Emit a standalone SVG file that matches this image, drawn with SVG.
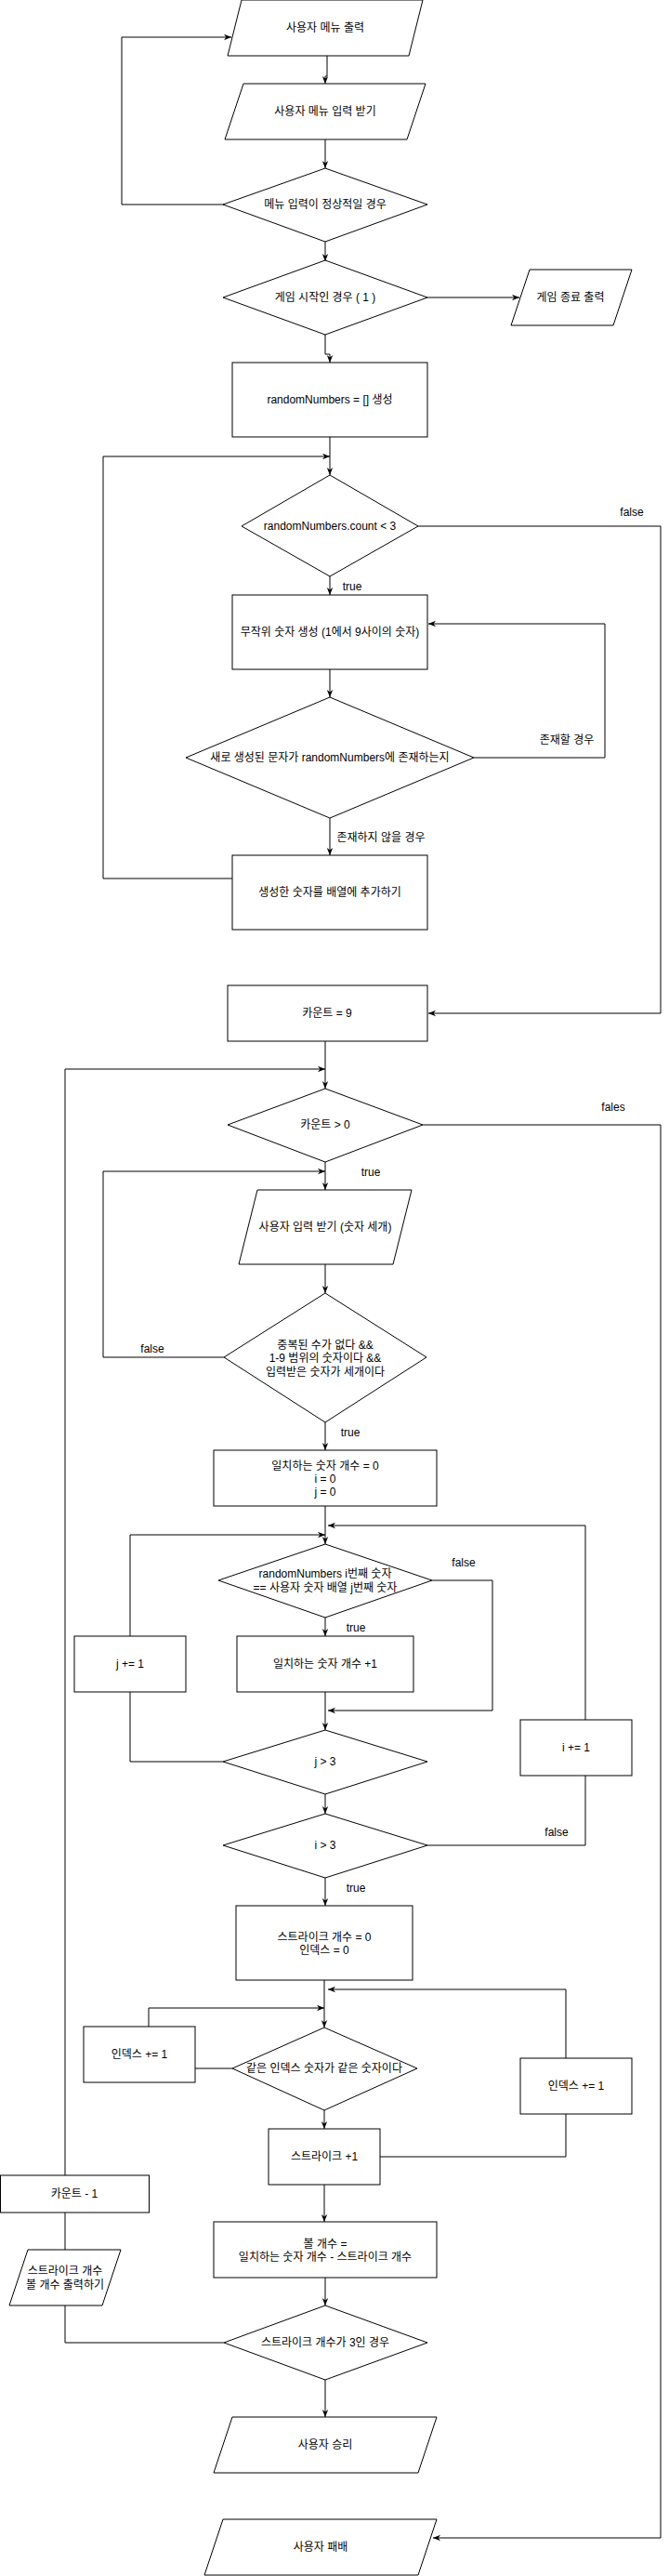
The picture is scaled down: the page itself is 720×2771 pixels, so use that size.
<svg xmlns="http://www.w3.org/2000/svg" width="720" height="2771" viewBox="0 0 720 2771">
<style>
.s{fill:#fff;stroke:#000;stroke-width:1}
.c{fill:none;stroke:#000;stroke-width:1}
.a{marker-end:url(#ah)}
text{font-family:"Liberation Sans","Noto Sans CJK KR",sans-serif;font-size:12px;fill:#000;text-anchor:middle}
</style>
<defs>
<marker id="ah" viewBox="0 0 10 10" refX="10" refY="5" markerWidth="8" markerHeight="8" markerUnits="userSpaceOnUse" orient="auto">
<path d="M0,1 L10,5 L0,9 L3,5 Z" fill="#000"/>
</marker>
</defs>
<rect width="720" height="2771" fill="#fff"/>
<g id="connectors">
<path class="c a" d="M352,60 V82 H350 V90"/>
<path class="c a" d="M350,150 V181"/>
<path class="c a" d="M241,220 H131 V40 H249"/>
<path class="c a" d="M350,260 V281"/>
<path class="c a" d="M460,320 H559"/>
<path class="c a" d="M350,360 V381 H355 V390"/>
<path class="c a" d="M355,470 V511"/>
<path class="c a" d="M355,620 V640"/>
<path class="c a" d="M355,720 V750"/>
<path class="c a" d="M510,815 H651 V671 H461"/>
<path class="c a" d="M355,880 V920"/>
<path class="c a" d="M250,945 H111 V491 H355"/>
<path class="c a" d="M450,566 H711 V1090 H461"/>
<path class="c a" d="M350,1120 V1171"/>
<path class="c a" d="M241,1460 H111 V1260 H350"/>
<path class="c a" d="M350,1250 V1280"/>
<path class="c a" d="M350,1360 V1391"/>
<path class="c a" d="M350,1530 V1560"/>
<path class="c a" d="M350,1620 V1661"/>
<path class="c a" d="M465,1700 H530 V1840 H353"/>
<path class="c a" d="M350,1740 V1760"/>
<path class="c a" d="M350,1820 V1861"/>
<path class="c" d="M240,1895 H140 V1820"/>
<path class="c a" d="M140,1760 V1651 H350"/>
<path class="c" d="M460,1985 H630 V1910"/>
<path class="c a" d="M630,1850 V1641 H353"/>
<path class="c a" d="M350,1930 V1951"/>
<path class="c a" d="M350,2020 V2050"/>
<path class="c a" d="M349,2130 V2181"/>
<path class="c" d="M250,2225 H210"/>
<path class="c a" d="M160,2180 V2160 H349"/>
<path class="c a" d="M349,2270 V2290"/>
<path class="c" d="M409,2320 H609 V2274"/>
<path class="c a" d="M609,2214 V2140 H353"/>
<path class="c a" d="M349,2350 V2390"/>
<path class="c a" d="M350,2450 V2480"/>
<path class="c" d="M241,2520 H70 V2480"/>
<path class="c" d="M70,2420 V2380"/>
<path class="c a" d="M70,2340 V1150 H350"/>
<path class="c a" d="M350,2560 V2600"/>
<path class="c a" d="M455,1210 H711 V2730 H466"/>
<text x="680" y="555">false</text>
<text x="379" y="635">true</text>
<text x="610" y="800">존재할 경우</text>
<text x="410" y="905">존재하지 않을 경우</text>
<text x="660" y="1195">fales</text>
<text x="399" y="1265">true</text>
<text x="164" y="1455">false</text>
<text x="377" y="1545">true</text>
<text x="499" y="1685">false</text>
<text x="383" y="1755">true</text>
<text x="599" y="1975">false</text>
<text x="383" y="2035">true</text>
</g>
<g id="n1"><polygon class="s" points="260,0 455,0 440,60 245,60"/><text x="350" y="34">사용자 메뉴 출력</text></g>
<g id="n2"><polygon class="s" points="262,90 458,90 438,150 242,150"/><text x="350" y="124">사용자 메뉴 입력 받기</text></g>
<g id="n3"><polygon class="s" points="350,181 460,220 350,260 240,220"/><text x="350" y="224">메뉴 입력이 정상적일 경우</text></g>
<g id="n4"><polygon class="s" points="350,280 460,320 350,360 240,320"/><text x="350" y="324">게임 시작인 경우 ( 1 )</text></g>
<g id="n5"><polygon class="s" points="570,290 680,290 660,350 550,350"/><text x="614" y="324">게임 종료 출력</text></g>
<g id="n6"><rect class="s" x="250" y="390" width="210" height="80"/><text x="355" y="434">randomNumbers = [] 생성</text></g>
<g id="n7"><polygon class="s" points="355,511 450,566 355,620 260,566"/><text x="355" y="570">randomNumbers.count &lt; 3</text></g>
<g id="n8"><rect class="s" x="250" y="640" width="210" height="80"/><text x="355" y="684">무작위 숫자 생성 (1에서 9사이의 숫자)</text></g>
<g id="n9"><polygon class="s" points="355,750 510,815 355,880 200,815"/><text x="355" y="819">새로 생성된 문자가 randomNumbers에 존재하는지</text></g>
<g id="n10"><rect class="s" x="250" y="920" width="210" height="80"/><text x="355" y="964">생성한 숫자를 배열에 추가하기</text></g>
<g id="n11"><rect class="s" x="245" y="1060" width="215" height="60"/><text x="352" y="1094">카운트 = 9</text></g>
<g id="n12"><polygon class="s" points="350,1171 455,1210 350,1250 245,1210"/><text x="350" y="1214">카운트 &gt; 0</text></g>
<g id="n13"><polygon class="s" points="277,1280 443,1280 423,1360 257,1360"/><text x="350" y="1324">사용자 입력 받기 (숫자 세개)</text></g>
<g id="n14"><polygon class="s" points="350,1391 459,1460 350,1530 241,1460"/><text x="350" y="1451">중복된 수가 없다 &amp;&amp;</text><text x="350" y="1465">1-9 범위의 숫자이다 &amp;&amp;</text><text x="350" y="1480">입력받은 숫자가 세개이다</text></g>
<g id="n15"><rect class="s" x="230" y="1560" width="240" height="60"/><text x="350" y="1581">일치하는 숫자 개수 = 0</text><text x="350" y="1595">i = 0</text><text x="350" y="1609">j = 0</text></g>
<g id="n16"><polygon class="s" points="350,1661 465,1700 350,1740 235,1700"/><text x="350" y="1697">randomNumbers i번째 숫자</text><text x="350" y="1712">== 사용자 숫자 배열  j번째 숫자</text></g>
<g id="n17"><rect class="s" x="255" y="1760" width="190" height="60"/><text x="350" y="1794">일치하는 숫자 개수  +1</text></g>
<g id="n18"><rect class="s" x="80" y="1760" width="120" height="60"/><text x="140" y="1794">j += 1</text></g>
<g id="n19"><rect class="s" x="560" y="1850" width="120" height="60"/><text x="620" y="1884">i += 1</text></g>
<g id="n20"><polygon class="s" points="350,1861 460,1895 350,1930 240,1895"/><text x="350" y="1899">j &gt; 3</text></g>
<g id="n21"><polygon class="s" points="350,1951 460,1985 350,2020 240,1985"/><text x="350" y="1989">i &gt; 3</text></g>
<g id="n22"><rect class="s" x="254" y="2050" width="190" height="80"/><text x="349" y="2088">스트라이크 개수 = 0</text><text x="349" y="2102">인덱스 = 0</text></g>
<g id="n23"><rect class="s" x="90" y="2180" width="120" height="60"/><text x="150" y="2214">인덱스 += 1</text></g>
<g id="n24"><polygon class="s" points="349,2181 449,2225 349,2270 250,2225"/><text x="349" y="2229">같은 인덱스 숫자가 같은 숫자이다</text></g>
<g id="n25"><rect class="s" x="560" y="2214" width="120" height="60"/><text x="620" y="2248">인덱스 += 1</text></g>
<g id="n26"><rect class="s" x="289" y="2290" width="120" height="60"/><text x="349" y="2324">스트라이크  +1</text></g>
<g id="n27"><rect class="s" x="230" y="2390" width="240" height="60"/><text x="350" y="2418">볼 개수  =</text><text x="350" y="2432">일치하는 숫자 개수 - 스트라이크 개수</text></g>
<g id="n28"><rect class="s" x="0.5" y="2340" width="160" height="40"/><text x="80" y="2364">카운트 - 1</text></g>
<g id="n29"><polygon class="s" points="30,2420 130,2420 110,2480 10,2480"/><text x="70" y="2447">스트라이크 개수</text><text x="70" y="2462">볼 개수 출력하기</text></g>
<g id="n30"><polygon class="s" points="350,2480 460,2520 350,2560 241,2520"/><text x="350" y="2524">스트라이크 개수가 3인 경우</text></g>
<g id="n31"><polygon class="s" points="250,2600 470,2600 450,2660 230,2660"/><text x="350" y="2634">사용자 승리</text></g>
<g id="n32"><polygon class="s" points="240,2710 470,2710 450,2770 220,2770"/><text x="345" y="2744">사용자 패배</text></g>
</svg>
